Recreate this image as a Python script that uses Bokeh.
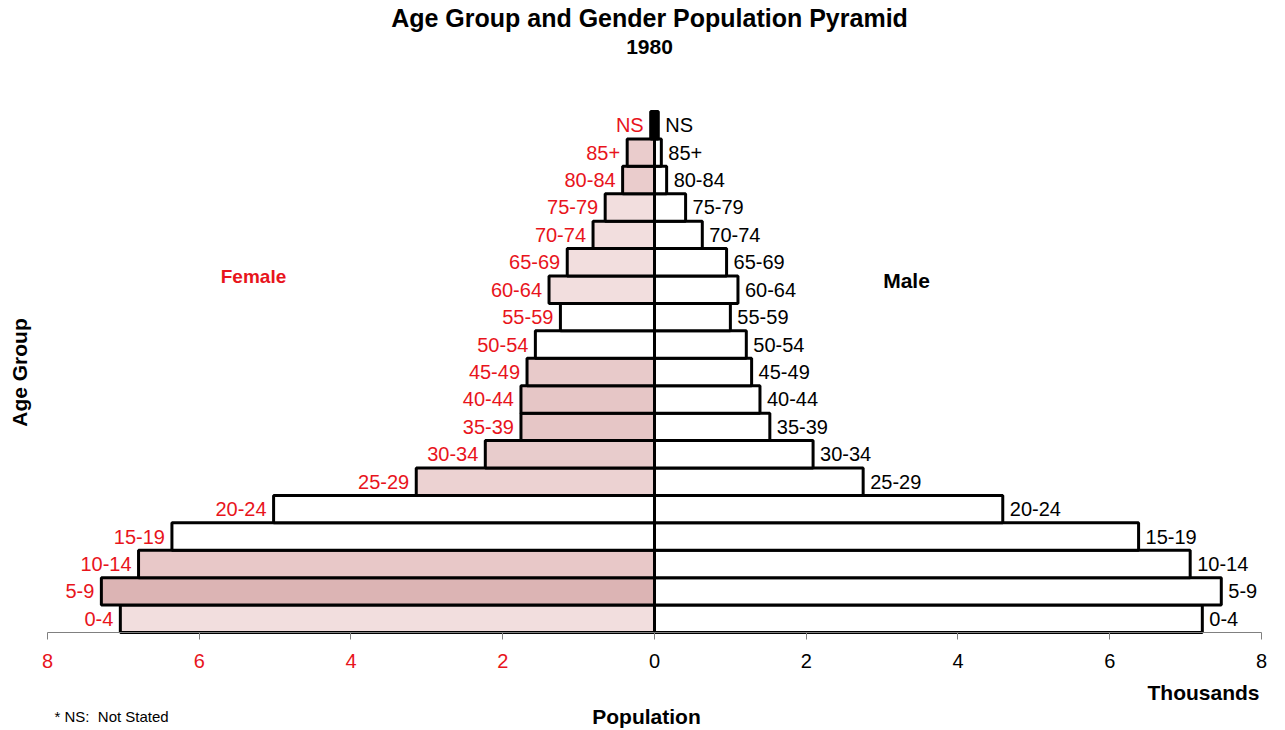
import math
from bokeh.plotting import figure
from bokeh.models import (ColumnDataSource, LabelSet, Label, FixedTicker, Range1d,
                          LinearAxis)
from bokeh.core.properties import value
from bokeh.embed import file_html
from bokeh.resources import INLINE

# ---- data (thousands) ----
age_groups = ["0-4", "5-9", "10-14", "15-19", "20-24", "25-29", "30-34", "35-39",
              "40-44", "45-49", "50-54", "55-59", "60-64", "65-69", "70-74",
              "75-79", "80-84", "85+", "NS"]
female = [7.04, 7.29, 6.80, 6.36, 5.02, 3.14, 2.23, 1.76, 1.76, 1.68, 1.57,
          1.24, 1.39, 1.15, 0.81, 0.65, 0.42, 0.36, 0.05]
male = [7.22, 7.47, 7.06, 6.38, 4.59, 2.75, 2.09, 1.52, 1.39, 1.28, 1.21,
        1.00, 1.10, 0.95, 0.63, 0.41, 0.16, 0.09, 0.05]
female_ticks = [-8, -6, -4, -2]
male_ticks = [0, 2, 4, 6, 8]

# ---- styles ----
RED = "#e8141c"
FONT = "Liberation Sans"
female_fill = ["#f2dede", "#dcb4b4", "#e8c8c8", "white", "white", "#ecd2d2",
               "#e8cccc", "#e6c6c6", "#e6c6c6", "#e8caca", "white", "white",
               "#f2dede", "#f2dede", "#f2dede", "#f2dede", "#eacccc", "#eacccc",
               "black"]
male_fill = ["white"] * (len(age_groups) - 1) + ["black"]

ypos = list(range(len(age_groups)))
fsrc = ColumnDataSource(dict(y=ypos, left=[-v for v in female], right=[0] * len(female),
                             fill=female_fill, label=age_groups))
msrc = ColumnDataSource(dict(y=ypos, left=[0] * len(male), right=male,
                             fill=male_fill, label=age_groups))

# frame spans the whole canvas so that all texts can live inside it
p = figure(width=1285, height=730, output_backend="svg", toolbar_location=None,
           x_range=Range1d(-8.6194, 8.3163), y_range=Range1d(-4.074, 22.548),
           min_border_left=0, min_border_right=0, min_border_top=0,
           min_border_bottom=0, y_axis_location=None, x_axis_location=None)
p.outline_line_color = None
p.grid.visible = False
p.background_fill_color = "white"

p.hbar(y="y", left="left", right="right", height=1.0, source=fsrc,
       fill_color="fill", line_color="black", line_width=3)
p.hbar(y="y", left="left", right="right", height=1.0, source=msrc,
       fill_color="fill", line_color="black", line_width=3)

p.add_layout(LabelSet(x="left", y="y", text="label", source=fsrc, x_offset=-7,
                      text_align="right", text_baseline="middle",
                      text_color=RED, text_font=value(FONT),
                      text_font_size="20px"))
p.add_layout(LabelSet(x="right", y="y", text="label", source=msrc, x_offset=7,
                      text_align="left", text_baseline="middle",
                      text_color="black", text_font=value(FONT),
                      text_font_size="20px"))

# two x axes drawn at the bottom of the bars: female side (red) and male side
def make_axis(ticks, color, bounds):
    ax = LinearAxis(fixed_location=-0.5, bounds=bounds,
                    ticker=FixedTicker(ticks=ticks))
    ax.minor_tick_line_color = None
    ax.major_tick_in = 0
    ax.major_tick_out = 7
    ax.major_tick_line_color = "#808080"
    ax.axis_line_color = "#808080"
    ax.major_label_text_color = color
    ax.major_label_text_font = FONT
    ax.major_label_text_font_size = "20px"
    ax.major_label_standoff = 15
    ax.major_label_overrides = {t: str(abs(t)) for t in ticks}
    p.add_layout(ax, "below")

make_axis(female_ticks, RED, (-8, 0))
make_axis(male_ticks, "black", (0, 8))

def lab(x, y, text, size, color="black", bold=True, align="center", angle=0.0):
    p.add_layout(Label(x=x, y=y, text=text, text_font=FONT,
                       text_font_size=size, text_color=color,
                       text_font_style="bold" if bold else "normal",
                       text_align=align, text_baseline="middle", angle=angle))

lab(-0.066, 21.892, "Age Group and Gender Population Pyramid", "25px")
lab(-0.066, 20.834, "1980", "21px")
lab(-5.285, 12.483, "Female", "19px", color=RED)
lab(3.321, 12.337, "Male", "21px")
lab(7.974, -2.688, "Thousands", "21px", align="right")
lab(-0.105, -3.563, "Population", "21px")
lab(-7.908, -3.563, "* NS:\u00a0 Not Stated", "15px", bold=False, align="left")
lab(-8.369, 8.982, "Age Group", "21px", angle=math.pi / 2)

open("out.html", "w").write(file_html(p, INLINE))
